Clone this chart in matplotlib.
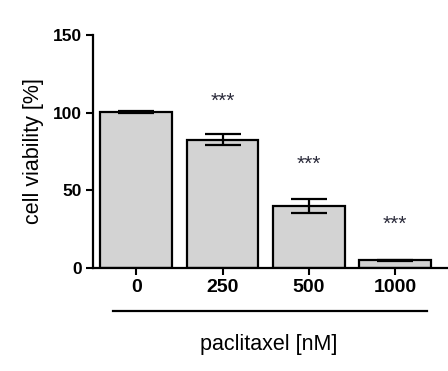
import matplotlib.pyplot as plt
import numpy as np

# data
doses = ['0', '250', '500', '1000']
viability = [100.5, 82.5, 39.7, 4.9]
sem = [0.5, 3.5, 4.5, 0.4]
stars = ['', '***', '***', '***']
star_y = [0, 107, 67, 28]

plt.rcParams['font.family'] = ['Liberation Sans', 'DejaVu Sans']

fig = plt.figure(figsize=(4.48, 3.71), dpi=100)
ax = fig.add_axes([0.2076, 0.2776, 0.7904, 0.6281])

x = np.arange(len(doses))
ax.bar(x, viability, width=0.83, color='#d3d3d3', edgecolor='black', linewidth=1.6, zorder=2)
ax.errorbar(x, viability, yerr=sem, fmt='none', ecolor='black', elinewidth=1.6,
            capsize=13, capthick=1.6, zorder=3)

for xi, s, sy in zip(x, stars, star_y):
    if s:
        ax.text(xi, sy, s, ha='center', va='center', fontsize=15, color='#2b2b3b')

ax.set_xlim(-0.5, 3.6)
ax.set_ylim(0, 150)
ax.set_yticks([0, 50, 100, 150])
ax.set_xticks(x)
ax.set_xticklabels(doses)
for lab in ax.get_yticklabels():
    lab.set_fontweight('bold')
    lab.set_fontsize(12.5)
for lab in ax.get_xticklabels():
    lab.set_fontweight('bold')
    lab.set_fontsize(14)
ax.tick_params(axis='both', width=1.5, length=5, direction='out', pad=3)

for side in ['top', 'right']:
    ax.spines[side].set_visible(False)
for side in ['left', 'bottom']:
    ax.spines[side].set_linewidth(1.6)

ax.set_ylabel('cell viability [%]', fontsize=15.5, labelpad=6)

# line under the dose labels plus axis title
ax.plot([0.0565, 0.943], [-0.1845, -0.1845], color='black', lw=1.6,
        transform=ax.transAxes, clip_on=False)
ax.text(0.497, -0.33, 'paclitaxel [nM]', transform=ax.transAxes,
        ha='center', va='center', fontsize=15.5)

fig.savefig('out.png', dpi=100)
